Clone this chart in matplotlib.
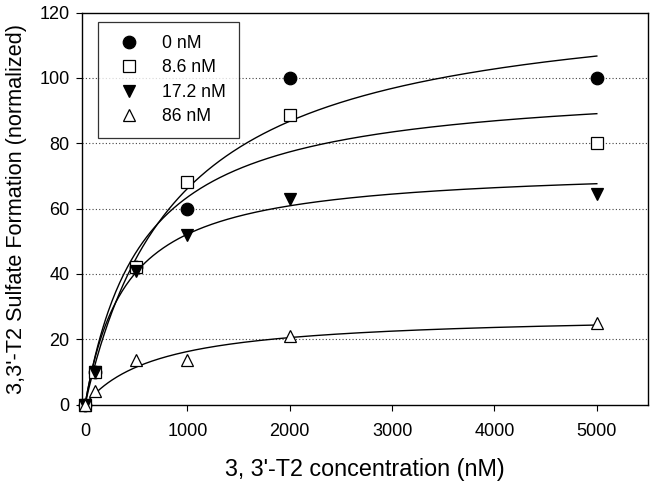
import numpy as np
import matplotlib
matplotlib.use("Agg")
from matplotlib import pyplot as plt

plt.rcParams['font.family'] = ['Liberation Sans', 'DejaVu Sans']

conc = [0, 100, 500, 1000, 2000, 5000]
labels = ["0 nM", "8.6 nM", "17.2 nM", "86 nM"]
values_0 = [0, 10, 42, 60, 100, 100]
values_86 = [0, 10, 42, 68, 88.5, 80]
values_172 = [0, 10, 41, 52, 63, 64.5]
values_860 = [0, 4, 13.5, 13.5, 21, 25]

# Michaelis-Menten fit parameters (Vmax, Km)
vmax = [126, 99, 73, 27.8]
km = [906, 560, 400, 714]

markers = ['o', 's', 'v', '^']
faces = ['black', 'white', 'black', 'white']
sizes = [9, 8, 9, 9]

figure = plt.figure(figsize=(6.51, 4.88), dpi=100)
axes = figure.add_axes([82 / 651, 1 - 404.5 / 488, 566 / 651, 392 / 488])

s = np.linspace(0, 5000, 400)
for v, k in zip(vmax, km):
    axes.plot(s, v * s / (k + s), color='black', linewidth=1)

series = [values_0, values_86, values_172, values_860]
for vals, lab, m, fc, ms in zip(series, labels, markers, faces, sizes):
    axes.plot(conc, vals, linestyle='none', marker=m, markersize=ms,
              markerfacecolor=fc, markeredgecolor='black', markeredgewidth=0.9,
              label=lab, clip_on=False, zorder=3)

for yy in [20, 40, 60, 80, 100]:
    axes.axhline(yy, color='#444444', linestyle=(0, (1, 2)), linewidth=0.8, zorder=0)

axes.set_xlim(-30, 5500)
axes.set_ylim(0, 120)
axes.set_xticks([0, 1000, 2000, 3000, 4000, 5000])
axes.set_yticks([0, 20, 40, 60, 80, 100, 120])
axes.tick_params(axis='x', labelsize=13, direction='out', length=4, pad=9)
axes.tick_params(axis='y', labelsize=13, direction='out', length=4, pad=5)
for sp in axes.spines.values():
    sp.set_linewidth(1.0)

axes.set_xlabel("3, 3'-T2 concentration (nM)", fontsize=16.8)
axes.xaxis.set_label_coords(0.5, -0.136)
axes.set_ylabel("3,3'-T2 Sulfate Formation (normalized)", fontsize=15.6)
axes.yaxis.set_label_coords(-0.097, 0.5)

legend = axes.legend(loc='upper left', bbox_to_anchor=(97.7 / 651, 1 - 21.7 / 488),
                     bbox_transform=figure.transFigure, fontsize=12.7,
                     frameon=True, fancybox=False, edgecolor='black',
                     handlelength=2.1, handletextpad=0.8, borderpad=0.75,
                     borderaxespad=0, labelspacing=0.42)
legend.get_frame().set_linewidth(0.9)

figure.savefig("out.png", dpi=100)
